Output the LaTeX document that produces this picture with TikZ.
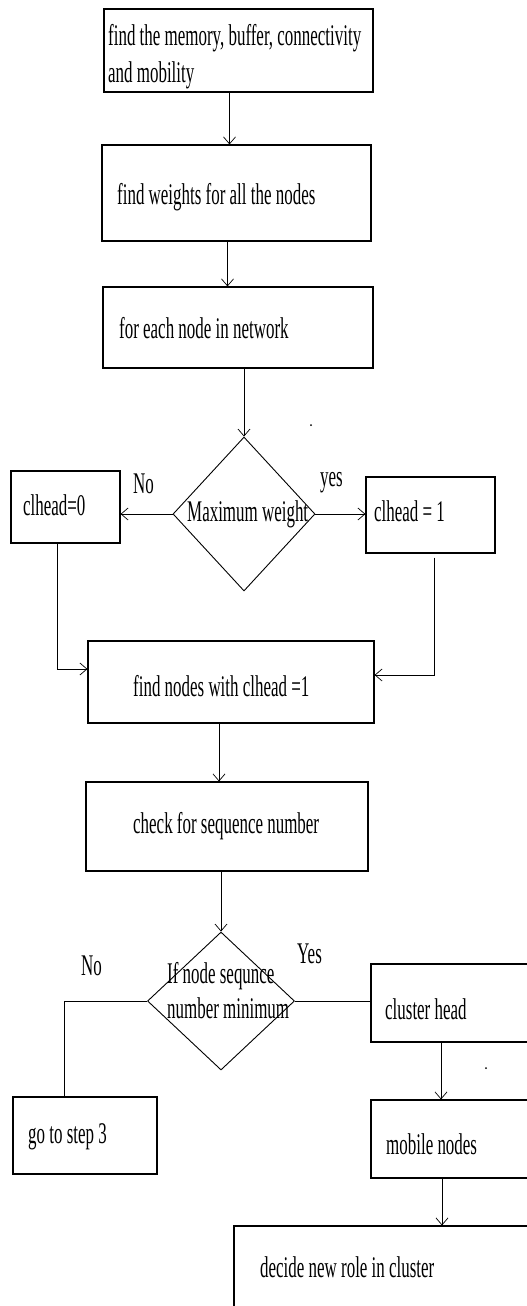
\documentclass[tikz,border=0pt]{standalone}
\usepackage{fontspec}
\setmainfont[FakeStretch=0.565]{Liberation Serif}
\usetikzlibrary{arrows.meta,shapes.geometric}
\begin{document}
\begin{tikzpicture}[x=1pt,y=-1pt,
  box/.style={draw, line width=1.1pt, rectangle, inner sep=0pt},
  dia/.style={draw, line width=0.9pt, diamond, inner sep=0pt},
  txt/.style={inner sep=0pt, font=\fontsize{30}{37}\selectfont, anchor=base west},
  con/.style={line width=0.8pt},
  arr/.style={con, -{Straight Barb[length=7pt,width=12pt,line width=0.7pt]}}
]
\useasboundingbox (0,0) rectangle (527,1306);
\clip (0,0) rectangle (527,1306);
\fill[white] (0,0) rectangle (527,1306);

% boxes
\node[box, minimum width=269, minimum height=83] (b1) at (238.5,50.5) {};
\node[box, minimum width=269, minimum height=96] (b2) at (236.5,193) {};
\node[box, minimum width=270, minimum height=81] (b3) at (238,327.5) {};
\node[dia, minimum width=142, minimum height=154] (d1) at (244,514) {};
\node[box, minimum width=109, minimum height=72] (c0) at (65.5,507) {};
\node[box, minimum width=129, minimum height=76] (c1) at (430.5,515) {};
\node[box, minimum width=286, minimum height=82] (b4) at (231,682) {};
\node[box, minimum width=282, minimum height=89] (b5) at (227,826.5) {};
\node[dia, minimum width=147, minimum height=138] (d2) at (221,1001) {};
\node[box, minimum width=144, minimum height=77] (s3) at (85,1135.5) {};
\node[box, minimum width=170, minimum height=78] (ch) at (456,1003) {};
\node[box, minimum width=170, minimum height=78] (mn) at (456,1139) {};
\node[box, minimum width=307, minimum height=86] (dr) at (387.5,1269) {};

% texts
\node[txt, anchor=north west, align=left] (t1) at (108,24.5) {find the memory, buffer, connectivity\\and mobility};
\node[txt] (t2) at (117,204) {find weights for all the nodes};
\node[txt] (t3) at (119,338) {for each node in network};
\node[txt] (td1) at (187,521) {Maximum weight};
\node[txt] (tc0) at (23,515) {clhead=0};
\node[txt] (tc1) at (374,521) {clhead = 1};
\node[txt] (t4) at (133,696) {find nodes with clhead =1};
\node[txt] (t5) at (133,833) {check for sequence number};
\node[txt, anchor=north west, align=left, font=\fontsize{30}{35}\selectfont] (td2) at (167,962.5) {If node sequnce\\number minimum};
\node[txt] (ts3) at (28,1143) {go to step 3};
\node[txt] (tch) at (385,1019) {cluster head};
\node[txt] (tmn) at (386,1154) {mobile nodes};
\node[txt] (tdr) at (260,1277) {decide new role in cluster};

% branch labels
\node[txt] (no1) at (133,493) {No};
\node[txt] (yes1) at (320,486) {yes};
\node[txt] (no2) at (81,975) {No};
\node[txt] (yes2) at (297,963) {Yes};

% stray dots
\fill (311,425) circle (1pt);
\fill (486,1068) circle (1pt);

% connectors
\draw[arr] ([xshift=-9pt]b1.south) -- ([xshift=-9pt]b1.south |- b2.north);
\draw[arr] ([xshift=-9pt]b2.south) -- ([xshift=-9pt]b2.south |- b3.north);
\draw[arr] (b3.south -| d1.north) -- (d1.north);
\draw[arr] (d1.west) -- (d1.west -| c0.east);
\draw[arr] (d1.east) -- (d1.east -| c1.west);
\draw[arr] ([xshift=-8.5pt]c0.south) |- ([yshift=13pt]b4.west);
\draw[arr, shorten <=4pt] ([xshift=3.5pt]c1.south) |- ([yshift=7pt]b4.east);
\draw[arr] ([xshift=-12pt]b4.south) -- ([xshift=-12pt]b4.south |- b5.north);
\draw[arr] (b5.south -| d2.north) -- (d2.north);
\draw[con] (d2.west) -| ([xshift=-21pt]s3.north);
\draw[con] (d2.east) -- (d2.east -| ch.west);
\draw[arr] ([xshift=-15pt]ch.south) -- ([xshift=-15pt]ch.south |- mn.north);
\draw[arr] ([xshift=-14pt]mn.south) -- ([xshift=-14pt]mn.south |- dr.north);
\end{tikzpicture}
\end{document}
